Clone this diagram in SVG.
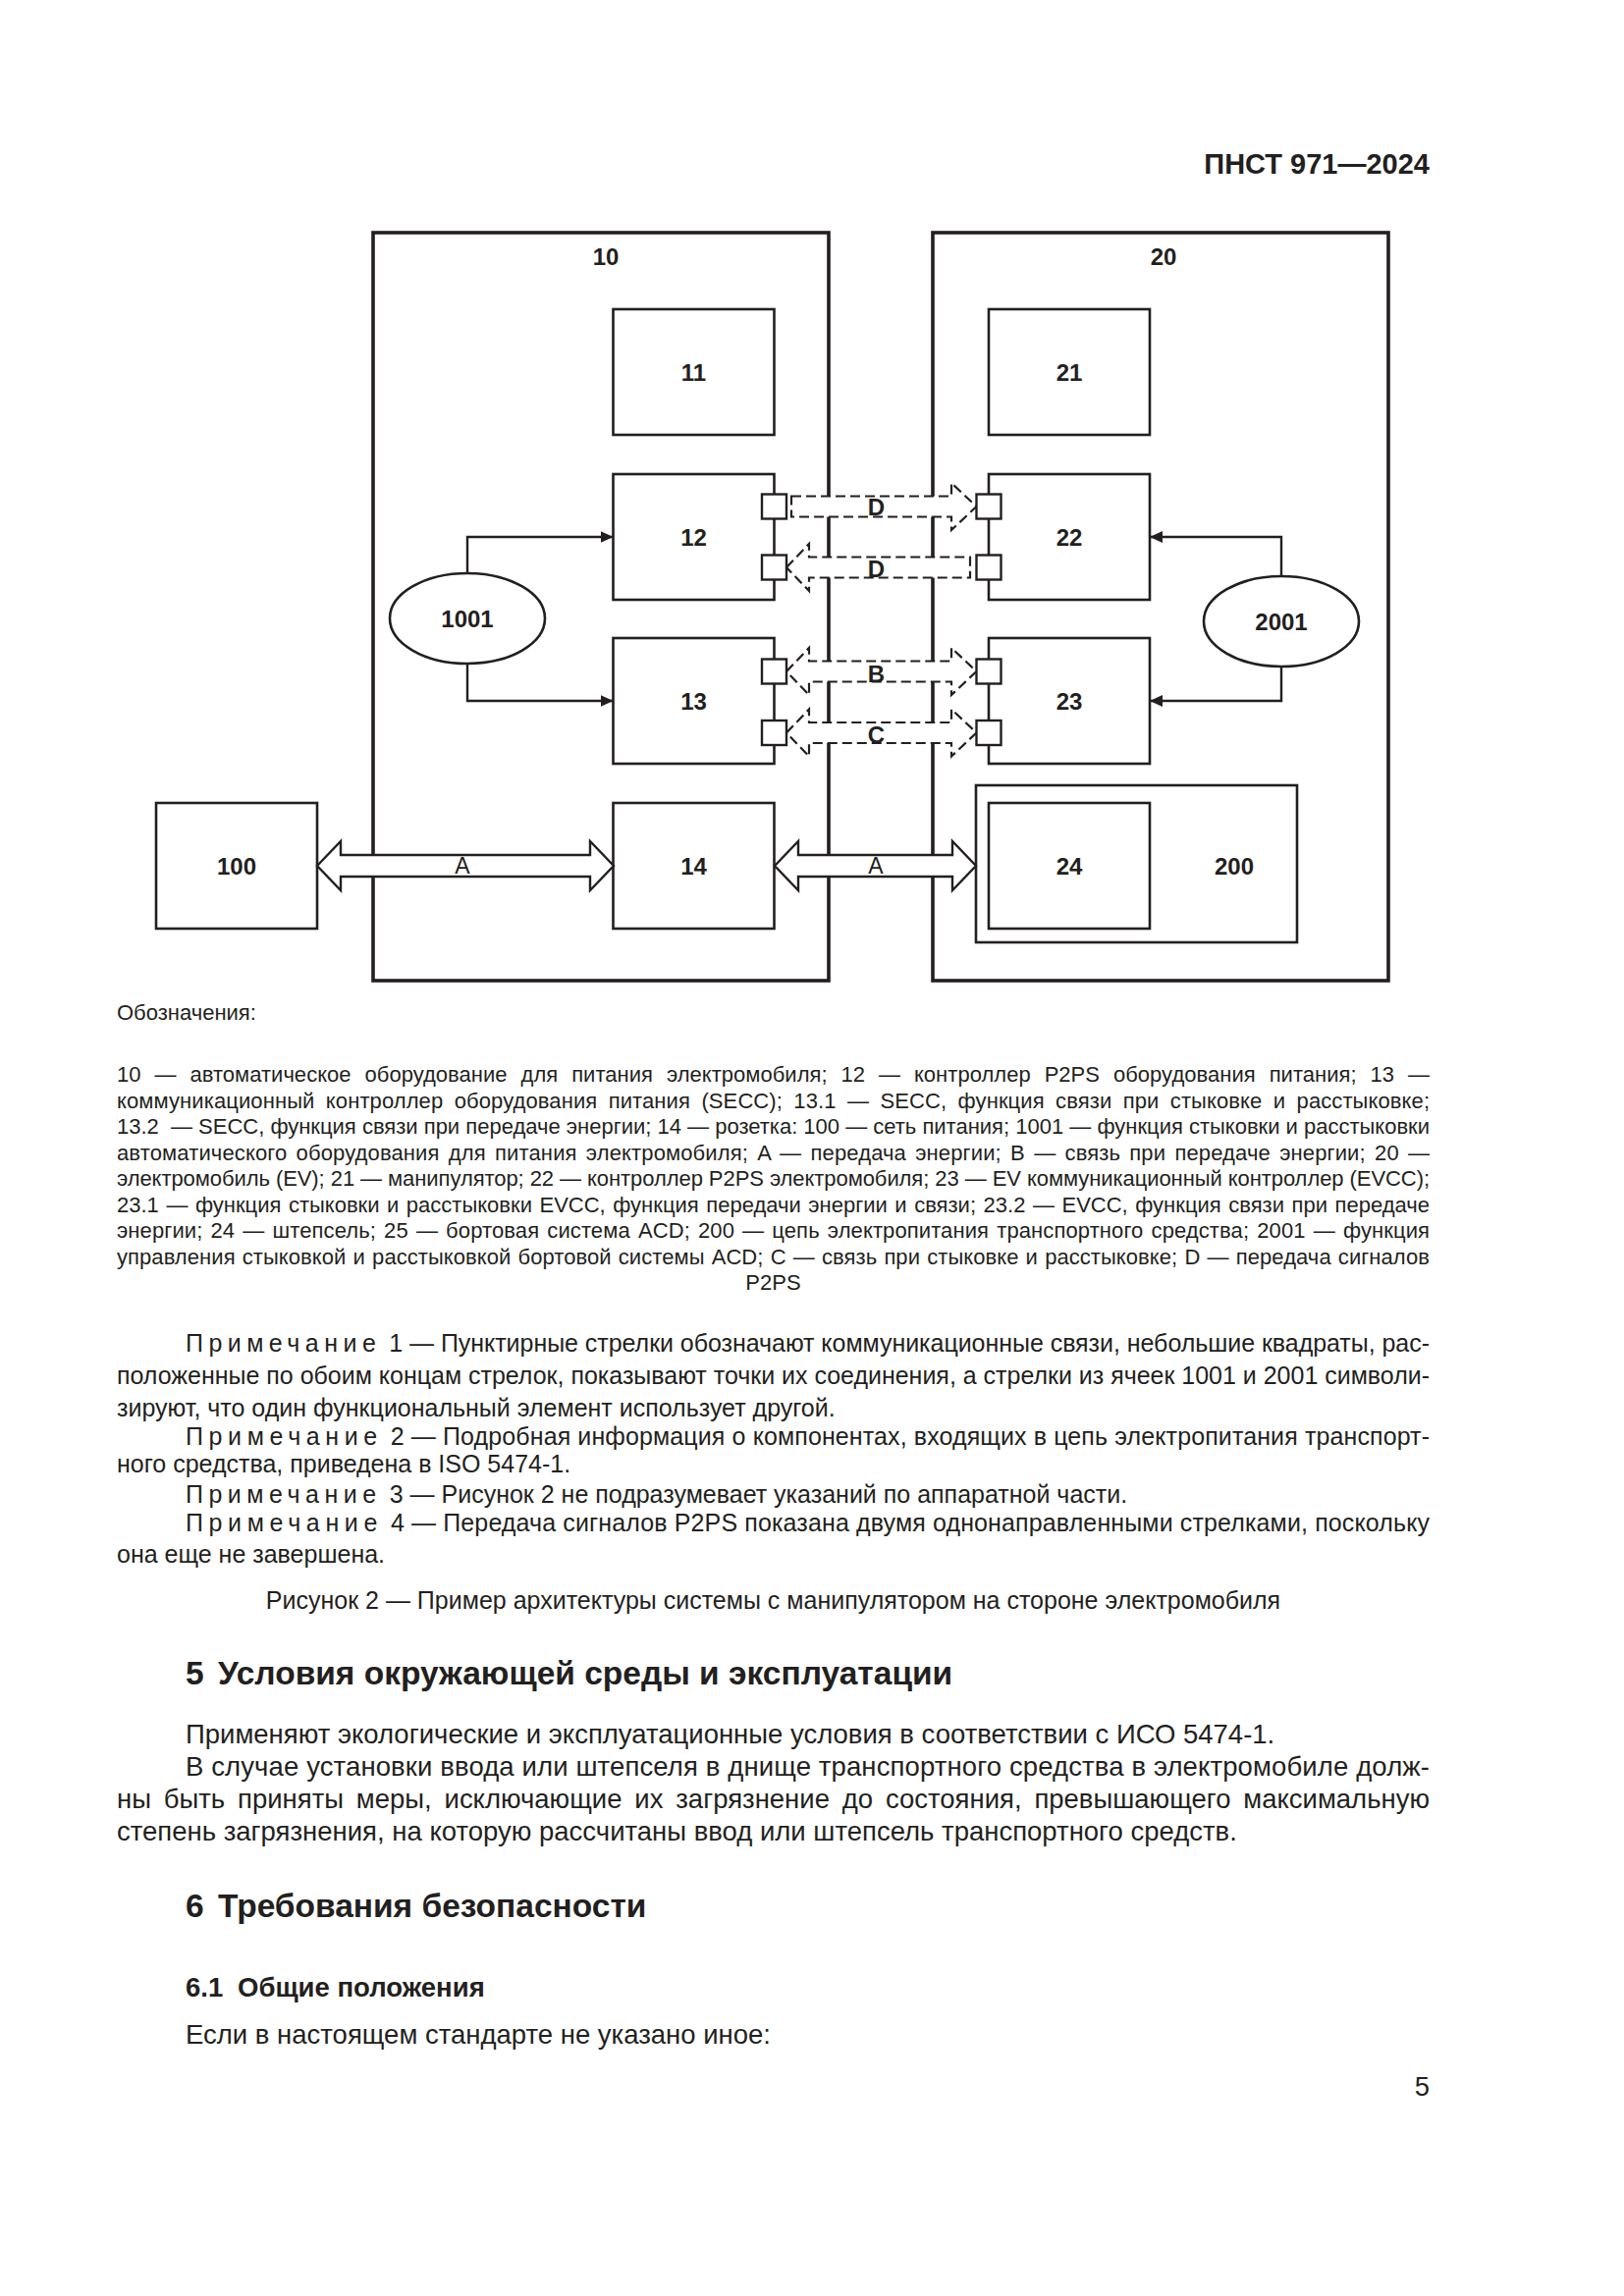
<svg xmlns="http://www.w3.org/2000/svg" width="1654" height="2339" viewBox="0 0 1654 2339">
<style>
text{font-family:"Liberation Sans",Arial,sans-serif;fill:#231f20}
.lbl{font-size:24px;font-weight:bold;text-anchor:middle}
.box{fill:#fff;stroke:#231f20;stroke-width:2.6}
.outer{fill:none;stroke:#231f20;stroke-width:3.6}
.sq{fill:#fff;stroke:#231f20;stroke-width:2.4}
.big{fill:#fff;stroke:#231f20;stroke-width:2.4}
.dash{fill:#fff;stroke:#231f20;stroke-width:2.2;stroke-dasharray:10 5}
.ln{fill:none;stroke:#231f20;stroke-width:2.4}
.lg{font-size:22px}
.nt{font-size:25px}
.bd{font-size:27.5px}
.sp{letter-spacing:5.5px}
</style>
<defs>
<marker id="ah" markerUnits="userSpaceOnUse" markerWidth="14" markerHeight="14" refX="13" refY="7" orient="auto">
<path d="M0,1 L13,7 L0,13 Z" fill="#231f20"/>
</marker>
</defs>
<rect width="1654" height="2339" fill="#fff"/>

<text x="1456" y="177" font-size="29" font-weight="bold" text-anchor="end">ПНСТ 971—2024</text>

<g id="n10"><rect class="outer" x="380" y="237" width="464" height="762"/><text class="lbl" x="617" y="270">10</text></g>
<g id="n20"><rect class="outer" x="950" y="237" width="464" height="762"/><text class="lbl" x="1185" y="270">20</text></g>
<g id="n11"><rect class="box" x="624.5" y="315" width="164" height="128"/><text class="lbl" x="706.5" y="387.5">11</text></g>
<g id="n12"><rect class="box" x="624.5" y="483" width="164" height="128"/><text class="lbl" x="706.5" y="555.5">12</text></g>
<g id="n13"><rect class="box" x="624.5" y="650" width="164" height="128"/><text class="lbl" x="706.5" y="722.5">13</text></g>
<g id="n14"><rect class="box" x="624.5" y="818" width="164" height="128"/><text class="lbl" x="706.5" y="890.5">14</text></g>
<g id="n21"><rect class="box" x="1007" y="315" width="164" height="128"/><text class="lbl" x="1089" y="387.5">21</text></g>
<g id="n22"><rect class="box" x="1007" y="483" width="164" height="128"/><text class="lbl" x="1089" y="555.5">22</text></g>
<g id="n23"><rect class="box" x="1007" y="650" width="164" height="128"/><text class="lbl" x="1089" y="722.5">23</text></g>
<g id="n200"><rect class="box" x="994" y="800" width="327" height="160" stroke-width="2"/><text class="lbl" x="1257" y="890.5">200</text></g>
<g id="n24"><rect class="box" x="1007" y="818" width="164" height="128"/><text class="lbl" x="1089" y="890.5">24</text></g>
<g id="n100"><rect class="box" x="159" y="818" width="164" height="128"/><text class="lbl" x="241" y="890.5">100</text></g>
<g id="n1001"><ellipse class="box" cx="476" cy="630" rx="79" ry="46"/><text class="lbl" x="476" y="638.5">1001</text></g>
<g id="n2001"><ellipse class="box" cx="1305" cy="633" rx="79" ry="46"/><text class="lbl" x="1305" y="641.5">2001</text></g>

<g id="connectors">
<path class="ln" d="M476 584 V547 H624.5" marker-end="url(#ah)"/>
<path class="ln" d="M476 676 V714 H624.5" marker-end="url(#ah)"/>
<path class="ln" d="M1305 587 V547 H1171" marker-end="url(#ah)"/>
<path class="ln" d="M1305 679 V714 H1171" marker-end="url(#ah)"/>

<polygon class="big" points="323,882 347,857 347,871 601,871 601,857 625,882 601,907 601,893 347,893 347,907"/>
<text x="471" y="890" font-size="23" text-anchor="middle">A</text>
<polygon class="big" points="789,882 813,857 813,871 970,871 970,857 994,882 970,907 970,893 813,893 813,907"/>
<text x="892" y="890" font-size="23" text-anchor="middle">A</text>

<polygon class="dash" points="806,505.5 969,505.5 969,492 994.5,516 969,540 969,526.5 806,526.5"/>
<polygon class="dash" points="801,578 824,554 824,567.5 988,567.5 988,588.5 824,588.5 824,602"/>
<polygon class="dash" points="801,684 824,660 824,673.5 969,673.5 969,660 994.5,684 969,708 969,694.5 824,694.5 824,708"/>
<polygon class="dash" points="801,746.5 824,722.5 824,736 969,736 969,722.5 994.5,746.5 969,770.5 969,757 824,757 824,770.5"/>
<text class="lbl" x="892.5" y="525">D</text>
<text class="lbl" x="892.5" y="588">D</text>
<text class="lbl" x="892.5" y="695">B</text>
<text class="lbl" x="892.5" y="757">C</text>

<rect class="sq" x="776" y="503.5" width="25" height="25"/>
<rect class="sq" x="776" y="565.5" width="25" height="25"/>
<rect class="sq" x="776" y="671.5" width="25" height="25"/>
<rect class="sq" x="776" y="734" width="25" height="25"/>
<rect class="sq" x="994.5" y="503.5" width="25" height="25"/>
<rect class="sq" x="994.5" y="565.5" width="25" height="25"/>
<rect class="sq" x="994.5" y="671.5" width="25" height="25"/>
<rect class="sq" x="994.5" y="734" width="25" height="25"/>
</g>

<g id="legend">
<text class="lg" x="119" y="1039">Обозначения:</text>
<text class="lg" x="119" y="1102" textLength="1337" lengthAdjust="spacing" word-spacing="7.8">10 — автоматическое оборудование для питания электромобиля; 12 — контроллер P2PS оборудования питания; 13 —</text>
<text class="lg" x="119" y="1128.5" textLength="1337" lengthAdjust="spacing" word-spacing="5.2">коммуникационный контроллер оборудования питания (SECC); 13.1 — SECC, функция связи при стыковке и расстыковке;</text>
<text class="lg" x="119" y="1155" textLength="1337" lengthAdjust="spacing">13.2 <tspan dx="6">— SECC, функция связи при передаче энергии; 14 — розетка: 100 — сеть питания; 1001 — функция стыковки и расстыковки</tspan></text>
<text class="lg" x="119" y="1181.5" textLength="1337" lengthAdjust="spacing" word-spacing="3">автоматического оборудования для питания электромобиля; A — передача энергии; B — связь при передаче энергии; 20 —</text>
<text class="lg" x="119" y="1208" textLength="1337" lengthAdjust="spacing">электромобиль (EV); 21 — манипулятор; 22 — контроллер P2PS электромобиля; 23 — EV коммуникационный контроллер (EVCC);</text>
<text class="lg" x="119" y="1234.5" textLength="1337" lengthAdjust="spacing" word-spacing="1.4">23.1 — функция стыковки и расстыковки EVCC, функция передачи энергии и связи; 23.2 — EVCC, функция связи при передаче</text>
<text class="lg" x="119" y="1261" textLength="1337" lengthAdjust="spacing" word-spacing="1.9">энергии; 24 — штепсель; 25 — бортовая система ACD; 200 — цепь электропитания транспортного средства; 2001 — функция</text>
<text class="lg" x="119" y="1287.5" textLength="1337" lengthAdjust="spacing" word-spacing="1">управления стыковкой и расстыковкой бортовой системы ACD; C — связь при стыковке и расстыковке; D — передача сигналов</text>
<text class="lg" x="787.5" y="1314" text-anchor="middle">P2PS</text>
</g>

<g id="notes">
<text class="nt" x="189" y="1376.5" textLength="1267" lengthAdjust="spacing"><tspan class="sp">Примечание</tspan><tspan dx="8">1 — Пунктирные стрелки обозначают коммуникационные связи, небольшие квадраты, рас-</tspan></text>
<text class="nt" x="119" y="1410" textLength="1337" lengthAdjust="spacing">положенные по обоим концам стрелок, показывают точки их соединения, а стрелки из ячеек 1001 и 2001 символи-</text>
<text class="nt" x="119" y="1443">зируют, что один функциональный элемент использует другой.</text>
<text class="nt" x="189" y="1472" textLength="1267" lengthAdjust="spacing"><tspan class="sp">Примечание</tspan><tspan dx="8">2 — Подробная информация о компонентах, входящих в цепь электропитания транспорт-</tspan></text>
<text class="nt" x="119" y="1500">ного средства, приведена в ISO 5474-1.</text>
<text class="nt" x="189" y="1531"><tspan class="sp">Примечание</tspan><tspan dx="8">3 — Рисунок 2 не подразумевает указаний по аппаратной части.</tspan></text>
<text class="nt" x="189" y="1560" textLength="1267" lengthAdjust="spacing"><tspan class="sp">Примечание</tspan><tspan dx="8">4 — Передача сигналов P2PS показана двумя однонаправленными стрелками, поскольку</tspan></text>
<text class="nt" x="119" y="1592">она еще не завершена.</text>
<text class="nt" x="787.5" y="1639" text-anchor="middle">Рисунок 2 — Пример архитектуры системы с манипулятором на стороне электромобиля</text>
</g>

<g id="body">
<text x="189" y="1716" font-size="33.5" font-weight="bold">5<tspan x="222">Условия окружающей среды и эксплуатации</tspan></text>
<text class="bd" x="189" y="1776">Применяют экологические и эксплуатационные условия в соответствии с ИСО 5474-1.</text>
<text class="bd" x="189" y="1809" textLength="1267" lengthAdjust="spacing">В случае установки ввода или штепселя в днище транспортного средства в электромобиле долж-</text>
<text class="bd" x="119" y="1842" textLength="1337" lengthAdjust="spacing" word-spacing="5.2">ны быть приняты меры, исключающие их загрязнение до состояния, превышающего максимальную</text>
<text class="bd" x="119" y="1875">степень загрязнения, на которую рассчитаны ввод или штепсель транспортного средств.</text>
<text x="189" y="1953" font-size="33.5" font-weight="bold">6<tspan x="222">Требования безопасности</tspan></text>
<text x="189" y="2034" font-size="27.5" font-weight="bold">6.1<tspan x="242">Общие положения</tspan></text>
<text class="bd" x="189" y="2082">Если в настоящем стандарте не указано иное:</text>
<text class="bd" x="1456" y="2135" text-anchor="end">5</text>
</g>
</svg>
